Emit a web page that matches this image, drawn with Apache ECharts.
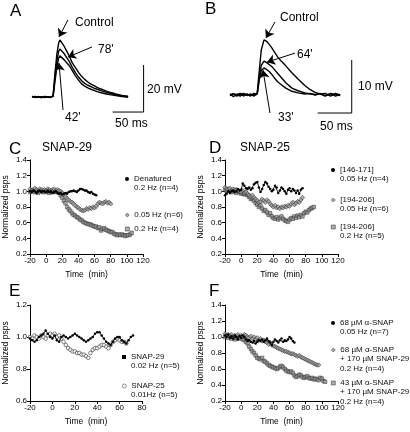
<!DOCTYPE html>
<html><head><meta charset="utf-8">
<script src="https://cdn.jsdelivr.net/npm/echarts@6/dist/echarts.min.js"></script>
<style>html,body{margin:0;padding:0;background:#fff}#c{width:410px;height:432px}</style>
</head><body><div id="c"></div>
<script>
// ---------- DATA ----------
// Panel A traces (time ms, voltage mV relative to baseline)
const aTime = [0,5,10,15,20,25,30,34,37,40,43,45,48,52,56,60,65,70,75,80,85,90,95,100,105,110,115,120,125,130,135,140,145,150,155];
const aControl = [0.3,-0.2,0.2,-0.3,0.1,0.0,-0.2,0.5,10,18,23,24.3,23.5,21.5,19.5,17.5,14.5,12.5,10.5,8.8,7.5,6.4,5.5,4.8,4.1,3.5,3.0,2.5,2.1,1.7,1.3,1.0,0.7,0.5,0.3];
const a78 = [0.2,-0.1,0.1,-0.2,0.2,0.0,-0.1,0.4,8,15,19.5,20.4,19.8,18.4,16.8,15.2,12.6,10.4,8.5,6.9,5.8,5.0,4.4,3.8,3.3,2.8,2.4,2.0,1.6,1.3,1.0,0.7,0.5,0.3,0.1];
const a42 = [0.0,0.2,-0.1,0.1,-0.2,0.1,0.0,0.3,6.5,12.5,16.5,17.5,17.0,15.8,14.6,13.4,11.2,9.0,7.2,5.6,4.6,3.9,3.3,2.8,2.3,1.9,1.6,1.3,1.0,0.8,0.6,0.4,0.2,0.1,-0.1];
// Panel B traces
const bTime = [0,5,10,15,20,25,30,35,40,43,46,50,54,58,62,66,70,76,82,91,100,110,118,125,132,140,148,155,162];
const bControl = [0.2,-0.3,0.1,0.3,-0.2,0.2,-0.1,0.1,0.3,4.5,8.5,10.4,10.1,9.5,8.8,8.0,7.2,6.3,5.5,4.2,3.0,1.8,1.0,0.5,0.2,0.3,-0.2,0.3,0.0];
const b64 = [0.1,0.2,-0.2,0.1,0.3,-0.1,0.2,-0.2,0.2,3.2,5.6,6.4,6.1,5.7,5.3,4.7,4.1,3.2,2.3,1.3,0.8,0.4,0.2,0.1,0.3,-0.1,0.2,-0.2,0.1];
const b33 = [-0.1,0.2,0.1,-0.2,0.2,0.1,-0.2,0.3,0.2,2.8,4.6,5.1,4.8,4.4,3.8,3.1,2.5,1.9,1.3,0.7,0.4,0.2,0.3,0.0,0.2,-0.2,0.3,0.1,-0.1];
const scaleA = {ms: 50, mV: 20};
const scaleB = {ms: 50, mV: 10};

// Panels C-F: time axis (min), each series starts at -20 min, 2-min steps
const tStart = -20, tStep = 2;
const cDenatured = [1.00,0.99,1.01,1.00,0.98,1.00,1.01,0.99,1.00,1.00,0.99,1.01,0.99,1.00,0.98,0.99,1.00,0.98,0.97,0.98,0.96,0.97,0.98,0.97,0.99,1.00,1.00,1.01,1.00,0.99,1.01,1.03,1.03,1.02,1.01,1.01,0.99,0.98,0.99,0.97,0.96,0.95];
const c005 = [1.03,1.01,1.02,1.04,1.02,1.01,1.03,1.02,1.00,1.02,1.01,1.03,1.02,1.01,1.02,1.03,1.01,1.02,1.01,1.00,0.98,0.96,0.93,0.91,0.89,0.87,0.86,0.84,0.82,0.80,0.79,0.77,0.76,0.75,0.76,0.78,0.77,0.79,0.78,0.80,0.79,0.81,0.84,0.86,0.85,0.84,0.86,0.87,0.85,0.86,0.84];
const c02 = [0.99,1.00,1.01,0.99,1.00,0.98,1.00,1.01,0.99,1.00,0.99,1.00,0.98,1.00,0.99,1.00,0.99,1.00,0.98,0.95,0.92,0.88,0.85,0.80,0.77,0.75,0.72,0.70,0.69,0.67,0.66,0.64,0.63,0.61,0.60,0.59,0.58,0.58,0.57,0.56,0.55,0.55,0.53,0.54,0.50,0.52,0.53,0.51,0.50,0.49,0.48,0.48,0.46,0.45,0.44,0.45,0.44,0.45,0.44,0.43,0.44,0.44,0.45,0.47];
const d146 = [0.95,0.97,1.00,0.98,1.00,1.01,0.99,1.00,1.03,1.01,1.02,1.10,1.07,1.04,1.03,1.05,1.02,1.04,1.09,1.11,1.12,1.05,0.99,1.03,1.08,1.12,1.10,1.06,1.03,1.00,1.02,1.07,1.05,0.98,1.01,1.05,1.03,1.00,0.97,1.02,1.04,1.00,1.03,1.01,0.98,1.01,0.97,1.02,1.04];
const d194slow = [1.05,1.03,1.02,1.04,1.01,1.03,1.00,1.02,1.01,1.00,0.99,1.01,0.98,0.99,0.97,0.95,0.93,0.95,0.92,0.90,0.88,0.86,0.87,0.90,0.88,0.86,0.89,0.87,0.84,0.82,0.80,0.82,0.79,0.80,0.78,0.80,0.79,0.81,0.80,0.82,0.81,0.84,0.86,0.83,0.85,0.87,0.86,0.89,0.92];
const d194fast = [1.02,1.00,1.03,1.01,0.99,1.00,1.02,0.98,1.00,0.99,0.97,0.98,0.96,0.97,0.95,0.93,0.90,0.91,0.88,0.85,0.83,0.80,0.82,0.78,0.75,0.76,0.73,0.70,0.72,0.68,0.66,0.65,0.67,0.64,0.66,0.68,0.65,0.63,0.62,0.61,0.64,0.66,0.65,0.68,0.66,0.69,0.67,0.70,0.68,0.72,0.74,0.73,0.76,0.78,0.79,0.80];
const eSnap29 = [0.99,0.98,0.97,0.98,1.00,1.01,1.02,1.04,1.02,1.00,0.99,1.01,0.98,0.97,1.00,1.01,1.00,0.99,1.00,1.01,1.02,1.01,1.00,0.99,0.98,0.97,0.98,0.99,1.00,1.02,1.03,1.03,1.01,0.99,0.97,0.96,0.95,0.97,0.99,1.00,1.00,0.98,0.97,0.96,0.98,1.00,1.01];
const eSnap25 = [1.00,0.99,1.01,1.00,0.99,1.01,1.00,0.99,1.01,1.02,1.01,1.02,1.00,1.01,0.99,0.97,0.95,0.93,0.92,0.91,0.91,0.90,0.90,0.89,0.89,0.88,0.87,0.90,0.92,0.93,0.93,0.94,0.95,0.95,0.94,0.93,0.95,0.97,0.98,0.99,0.98,0.97,0.97,0.96];
const fAlpha68 = [1.02,1.00,1.03,0.99,1.01,0.98,1.02,1.00,0.97,1.01,0.99,1.02,1.00,0.97,0.95,0.96,0.94,0.93,0.95,0.92,0.94,0.96,0.95,0.97,0.94,0.96,0.98,0.95,0.93,0.90,0.94,0.97,0.95,0.93,0.96,0.98,0.94,0.96,0.95,0.97,1.00,0.98,0.95,0.93];
const fAlpha68Snap29 = [1.04,1.02,1.03,1.01,1.03,1.00,1.02,1.01,1.03,1.00,1.02,1.01,1.03,1.02,1.00,0.99,1.01,0.98,1.00,0.97,0.99,0.96,0.98,0.95,0.96,0.94,0.93,0.91,0.93,0.90,0.89,0.88,0.87,0.86,0.85,0.84,0.83,0.82,0.82,0.81,0.80,0.79,0.79,0.78,0.77,0.76,0.77,0.75,0.74,0.73,0.72,0.71,0.70,0.69,0.68,0.67,0.66,0.65,0.65];
const fAlpha43Snap29 = [1.00,1.02,0.99,1.01,0.98,1.00,0.97,0.99,1.01,0.98,1.00,0.97,0.96,0.94,0.92,0.88,0.85,0.82,0.80,0.77,0.74,0.73,0.72,0.74,0.70,0.69,0.67,0.65,0.64,0.63,0.62,0.61,0.60,0.61,0.63,0.64,0.62,0.60,0.58,0.57,0.56,0.57,0.55,0.52,0.50,0.51,0.53,0.52,0.50,0.49,0.50,0.51,0.49,0.48,0.49,0.47,0.48,0.47,0.46,0.49,0.48,0.45,0.44];

const xTicksCDF = {min: -20, max: 120, interval: 20};
const xTicksE = {min: -20, max: 80, interval: 20};
const yTicksCDF = {min: 0.2, max: 1.4, interval: 0.2};
const yTicksE = {min: 0.6, max: 1.2, interval: 0.2};

// ---------- CHART ----------
const fam = "'Liberation Sans', Arial, Helvetica, sans-serif";
const pairs = (t, v) => v.map((y, i) => [t[i], y]);
const timed = v => v.map((y, i) => [tStart + i * tStep, y]);

const chart = echarts.init(document.getElementById('c'), null, {renderer: 'canvas'});

const grids = [
  {left: 32, top: 14.75, width: 124, height: 105.75},   // A
  {left: 230, top: 15.5, width: 136, height: 106},      // B
  {left: 30, top: 160, width: 113, height: 94},         // C
  {left: 225, top: 160, width: 113, height: 94},        // D
  {left: 30, top: 305, width: 112, height: 96},         // E
  {left: 225, top: 305, width: 113, height: 96}         // F
].map(g => Object.assign({outerBoundsMode: 'none', containLabel: false, show: false}, g));

const hiddenX = (gi) => ({gridIndex: gi, type: 'value', min: 0, max: 200, show: false});
const hiddenY = (gi, mn, mx) => ({gridIndex: gi, type: 'value', min: mn, max: mx, show: false});

const axisCommon = {
  axisLine: {show: true, onZero: false, lineStyle: {color: '#000', width: 1}},
  axisTick: {show: true, length: 3, inside: false, lineStyle: {color: '#000', width: 1}},
  splitLine: {show: false},
  nameLocation: 'middle',
  nameTextStyle: {fontSize: 8.5, color: '#000', fontFamily: fam}
};
const xAx = (gi, ticks) => Object.assign({}, axisCommon, {
  gridIndex: gi, type: 'value', min: ticks.min, max: ticks.max, interval: ticks.interval,
  name: 'Time  (min)', nameGap: 16,
  axisLabel: {fontSize: 8, color: '#000', margin: 3, fontFamily: fam}
});
const yAx = (gi, ticks) => Object.assign({}, axisCommon, {
  gridIndex: gi, type: 'value', min: ticks.min, max: ticks.max, interval: ticks.interval,
  name: 'Normalized psps', nameGap: 20,
  axisLabel: {fontSize: 8, color: '#000', margin: 3, fontFamily: fam, formatter: v => v.toFixed(1)}
});

const xAxis = [hiddenX(0), hiddenX(1), xAx(2, xTicksCDF), xAx(3, xTicksCDF), xAx(4, xTicksE), xAx(5, xTicksCDF)];
const yAxis = [hiddenY(0, -10, 35), hiddenY(1, -5, 15), yAx(2, yTicksCDF), yAx(3, yTicksCDF), yAx(4, yTicksE), yAx(5, yTicksCDF)];

const traceStyle = {color: '#000', width: 1.4};
function trace(t, v, idx, marks) {
  const s = {type: 'line', xAxisIndex: idx, yAxisIndex: idx, data: pairs(t, v), symbol: 'none',
    lineStyle: traceStyle, silent: true, animation: false, clip: false};
  if (marks) {
    s.markLine = {silent: true, animation: false, symbol: ['none', 'arrow'], symbolSize: 8, precision: 3,
      lineStyle: {color: '#000', width: 1, type: 'solid'}, itemStyle: {color: '#000'}, label: {show: false},
      emphasis: {disabled: true},
      data: marks.map(m => [{coord: m[0]}, {coord: m[1]}])};
  }
  return s;
}
// scale bars anchored at corner (time, mV)
function scaleBar(idx, cornerT, bottomV, sc) {
  return {type: 'line', xAxisIndex: idx, yAxisIndex: idx, symbol: 'none', silent: true, animation: false, clip: false,
    lineStyle: {color: '#000', width: 1},
    data: [[cornerT - sc.ms, bottomV], [cornerT, bottomV], [cornerT, bottomV + sc.mV]]};
}

const openStyle = {color: '#9a9a9a', borderColor: '#222', borderWidth: 0.6};
function dots(name, v, idx, size) {
  return {name, type: 'line', xAxisIndex: idx, yAxisIndex: idx, data: timed(v), symbol: 'circle', symbolSize: size || 2.5,
    showSymbol: true, lineStyle: {color: '#000', width: 0.9}, itemStyle: {color: '#000'}, animation: false, z: 3};
}
function open(name, v, idx, symbol, size) {
  return {name, type: 'scatter', xAxisIndex: idx, yAxisIndex: idx, data: timed(v), symbol, symbolSize: size,
    itemStyle: openStyle, animation: false, z: 2};
}

const N = {
  cDen: 'Denatured\n0.2 Hz (n=4)', c005: '0.05 Hz (n=6)', c02: '0.2 Hz (n=4)',
  d146: '[146-171]\n0.05 Hz (n=4)', d194s: '[194-206]\n0.05 Hz (n=6)', d194f: '[194-206]\n0.2 Hz (n=5)',
  e29: 'SNAP-29\n0.02 Hz (n=5)', e25: 'SNAP-25\n0.01Hz (n=5)',
  f68: '68 \u00b5M \u03b1-SNAP\n0.05 Hz (n=7)', f68s: '68 \u00b5M \u03b1-SNAP\n+ 170 \u00b5M SNAP-29\n0.2 Hz (n=4)',
  f43s: '43 \u00b5M \u03b1-SNAP\n+ 170 \u00b5M SNAP-29\n0.2 Hz (n=4)'
};

const series = [
  trace(aTime, aControl, 0, [[[58, 32.8], [43.5, 25.5]], [[96.8, 21.3], [58, 17]], [[50, -5.5], [43.5, 14.5]]]),
  trace(aTime, a78, 0), trace(aTime, a42, 0),
  scaleBar(0, 180, -6.4, scaleA),
  trace(bTime, bControl, 1, [[[66.2, 13.8], [52.9, 10.75]], [[95.6, 7.9], [54.4, 6.2]], [[58.8, -3.4], [48.5, 4.7]]]),
  trace(bTime, b64, 1), trace(bTime, b33, 1),
  scaleBar(1, 179, -3.4, scaleB),
  open(N.c02, c02, 2, 'rect', 3.5), open(N.c005, c005, 2, 'diamond', 4.5), dots(N.cDen, cDenatured, 2),
  open(N.d194f, d194fast, 3, 'rect', 3.5), open(N.d194s, d194slow, 3, 'diamond', 4.5), dots(N.d146, d146, 3),
  open(N.e25, eSnap25, 4, 'circle', 3.6), dots(N.e29, eSnap29, 4, 2.5),
  open(N.f43s, fAlpha43Snap29, 5, 'rect', 3.5), open(N.f68s, fAlpha68Snap29, 5, 'diamond', 4.5), dots(N.f68, fAlpha68, 5)
];
series[14].itemStyle = {color: '#fff', borderColor: '#222', borderWidth: 0.7};

// legends: icon + first line via ECharts legend, further lines as text below
const L = 9.2;
const legend = [], legendExtra = [];
function leg(name, icon, iconX, y0) {
  legend.push({data: [{name, icon}], left: iconX - 2, top: y0 - 5, itemWidth: 4, itemHeight: 4,
    itemGap: 0, padding: 0, selectedMode: false, formatter: n => n.split('\n')[0],
    itemStyle: {borderWidth: 0.6},
    textStyle: {fontSize: 8, color: '#111', fontFamily: fam, lineHeight: 10}});
  name.split('\n').slice(1).forEach((line, k) => legendExtra.push([line, iconX + 7, y0 + (k + 1) * L]));
}
leg(N.cDen, 'circle', 127, 179); leg(N.c005, 'diamond', 127, 215); leg(N.c02, 'rect', 127, 229);
leg(N.d146, 'circle', 333, 170); leg(N.d194s, 'diamond', 333, 200); leg(N.d194f, 'rect', 333, 227);
leg(N.e29, 'rect', 124, 357); leg(N.e25, 'circle', 124, 386);
leg(N.f68, 'circle', 333, 323); leg(N.f68s, 'diamond', 333, 350); leg(N.f43s, 'rect', 333, 383);

function txt(text, x, y, size, align) {
  return {type: 'text', x, y, silent: true,
    style: {text, fontSize: size, fontFamily: fam, fill: '#000', align: align || 'left', verticalAlign: 'middle'}};
}
const graphic = [
  txt('A', 10, 11, 17), txt('B', 205, 9, 17), txt('C', 9, 149, 17), txt('D', 209, 148, 17),
  txt('E', 9, 291, 17), txt('F', 209, 291, 17),
  txt('SNAP-29', 42, 148, 12), txt('SNAP-25', 240, 148, 12),
  txt('Control', 75, 23, 12), txt("78'", 98, 50, 12), txt("42'", 65, 118, 12),
  txt('20 mV', 147, 90, 12), txt('50 ms', 115, 124, 12),
  txt('Control', 280, 18, 12), txt("64'", 297, 55, 12), txt("33'", 278, 118, 12),
  txt('10 mV', 358, 87, 12), txt('50 ms', 320, 127, 12)
].concat(legendExtra.map(e => {
  const t = txt(e[0], e[1], e[2], 8); t.style.fill = '#111'; return t;
}));

chart.setOption({animation: false, backgroundColor: '#fff', grid: grids, xAxis, yAxis, series, legend, graphic});
</script></body></html>
